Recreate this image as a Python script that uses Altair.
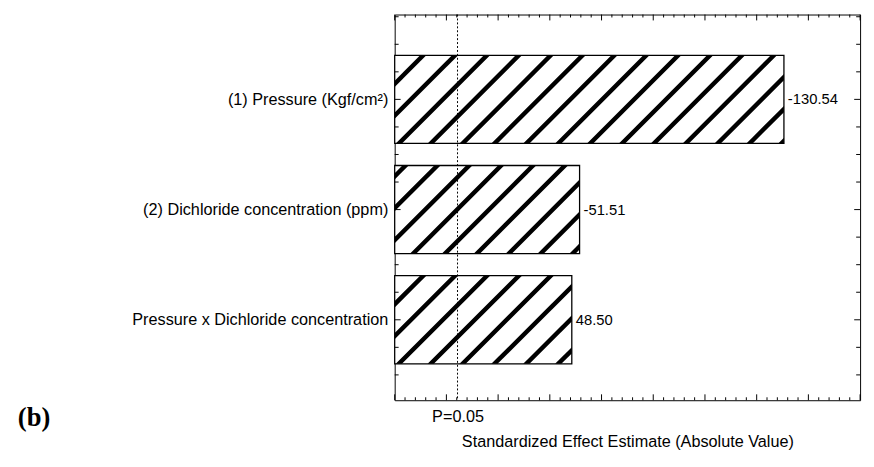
import json
import numpy as np
import pandas as pd
import altair as alt

# ---- data ----
terms = [
    "(1) Pressure (Kgf/cm²)",
    "(2) Dichloride concentration (ppm)",
    "Pressure x Dichloride concentration",
]
effects = [-130.54, -51.51, 48.50]
p_crit = 4.303
p_label = "P=0.05"
x_domain = [-20, 160]
x_title = "Standardized Effect Estimate (Absolute Value)"
panel_label = "(b)"

# ---- styling / layout ----
W, H = 473, 392
y_domain = [0.23, 3.73]
bar_half = 0.4
hatch_spacing = 32.4        # px, horizontal distance between hatch stripes
hatch_phase = [29, 11, 29]  # px offset of first stripe at bar top
hatch_width = 4.5           # px, perpendicular stripe thickness
FONT = "Liberation Sans"
AX_FS = 16.5

sx = W / (x_domain[1] - x_domain[0])
sy = H / (y_domain[1] - y_domain[0])

pos = list(range(1, len(terms) + 1))
df = pd.DataFrame({"term": terms, "pos": pos, "effect": effects})
df["abs"] = df["effect"].abs()
df["start"] = x_domain[0]
df["top"] = df["pos"] - bar_half
df["bot"] = df["pos"] + bar_half
df["label"] = [f"{v:.2f}" for v in effects]

# 45-degree hatch stripes clipped to each bar, as filled areas
rows = []
sid = 0
half = hatch_width * np.sqrt(2) / 2  # half-width measured along X+Y
for i, r in df.iterrows():
    Wb = (r["abs"] - r["start"]) * sx
    Hb = (r["bot"] - r["top"]) * sy
    c = hatch_phase[i] - hatch_spacing * 5
    while c - half - Hb < Wb:
        lo_x = max(0.0, c - half - Hb)
        hi_x = min(Wb, c + half)
        if hi_x > lo_x:
            bps = [lo_x, hi_x] + [b for b in (c - half, c + half, c - half - Hb, c + half - Hb)
                                  if lo_x < b < hi_x]
            for X in sorted(set(bps)):
                lower = max(0.0, c - half - X)
                upper = min(Hb, c + half - X)
                if upper < lower:
                    upper = lower
                rows.append({
                    "sid": f"s{sid}",
                    "hx": float(r["start"] + X / sx),
                    "hy": float(r["top"] + lower / sy),
                    "hy2": float(r["top"] + upper / sy),
                })
            sid += 1
        c += hatch_spacing
hatch = pd.DataFrame(rows)

xs = alt.Scale(domain=x_domain, nice=False, zero=False)
ys = alt.Scale(domain=y_domain, nice=False, zero=False, reverse=True)

label_expr = "[" + ",".join(json.dumps(t, ensure_ascii=False) for t in terms) + "][datum.value - 1]"

xaxis = alt.Axis(values=[p_crit], labelExpr=f"'{p_label}'", ticks=False,
                 domain=False, grid=False, labelFont=FONT, labelFontSize=AX_FS,
                 labelColor="black", labelPadding=9, title=x_title,
                 titleFont=FONT, titleFontSize=AX_FS, titleFontWeight="normal",
                 titleColor="black", titlePadding=9)
yaxis = alt.Axis(values=pos, labelExpr=label_expr, ticks=False, domain=False,
                 grid=False, labelFont=FONT, labelFontSize=AX_FS, labelColor="black",
                 labelPadding=7, title=None, labelOverlap=False, labelLimit=500)


def X(field):
    return alt.X(field, scale=xs, axis=xaxis, title=x_title)


def Y(field, **kw):
    return alt.Y(field, scale=ys, axis=yaxis, title=None, **kw)


base = alt.Chart(df)

bars_fill = base.mark_bar(fill="white", stroke=None).encode(
    x=X("start:Q"), x2="abs:Q", y=Y("top:Q"), y2="bot:Q")

hatch_layer = alt.Chart(hatch).mark_area(color="black", fill="black", opacity=1,
                                         orient="vertical").encode(
    x=X("hx:Q"), y=Y("hy:Q", stack=None), y2="hy2:Q", detail="sid:N")

bars_outline = base.mark_bar(fill=None, fillOpacity=0, stroke="black",
                             strokeWidth=1.3).encode(
    x=X("start:Q"), x2="abs:Q", y=Y("top:Q"), y2="bot:Q")

values_text = base.mark_text(align="left", baseline="middle", dx=4, font=FONT,
                             fontSize=15, color="black").encode(
    x=X("abs:Q"), y=Y("pos:Q"), text="label:N")

pline = alt.Chart(pd.DataFrame({"p": [p_crit]})).mark_rule(
    color="black", strokeWidth=1, strokeDash=[2, 2]).encode(
    x=X("p:Q"), y=alt.value(0), y2=alt.value(H))

# frame ticks (inward)
xt = pd.DataFrame({"v": np.arange(x_domain[0], x_domain[1] + 1, 4)})
xt["major"] = (xt["v"] % 20 == 0)
yt = pd.DataFrame({"v": np.arange(0.25, y_domain[1], 0.25)})
yt["major"] = (yt["v"] % 1 == 0)


def xticks(major, length):
    d = alt.Chart(xt).transform_filter(
        "datum.major" if major else "!datum.major")
    top = d.mark_rule(color="black", strokeWidth=1).encode(
        x=X("v:Q"), y=alt.value(0), y2=alt.value(length))
    bot = d.mark_rule(color="black", strokeWidth=1).encode(
        x=X("v:Q"), y=alt.value(H), y2=alt.value(H - length))
    return top + bot


def yticks(major, length):
    d = alt.Chart(yt).transform_filter(
        "datum.major" if major else "!datum.major")
    left = d.mark_rule(color="black", strokeWidth=1).encode(
        y=Y("v:Q"), x=alt.value(0), x2=alt.value(length))
    right = d.mark_rule(color="black", strokeWidth=1).encode(
        y=Y("v:Q"), x=alt.value(W), x2=alt.value(W - length))
    return left + right


panel = alt.Chart(pd.DataFrame({"t": [panel_label]})).mark_text(
    align="left", baseline="alphabetic", font="Liberation Serif", fontWeight="bold",
    fontSize=27, color="black").encode(
    x=alt.value(-383), y=alt.value(418), text="t:N")

chart = alt.layer(
    bars_fill, hatch_layer, bars_outline, xticks(True, 6), xticks(False, 3),
    yticks(True, 6), yticks(False, 4), pline, values_text, panel,
).properties(
    width=W, height=H,
    padding={"left": 10, "top": 2, "right": 5, "bottom": 0},
).configure_view(stroke="black", strokeWidth=1)

chart.save("out.html", embed_options={"renderer": "svg", "actions": False})
